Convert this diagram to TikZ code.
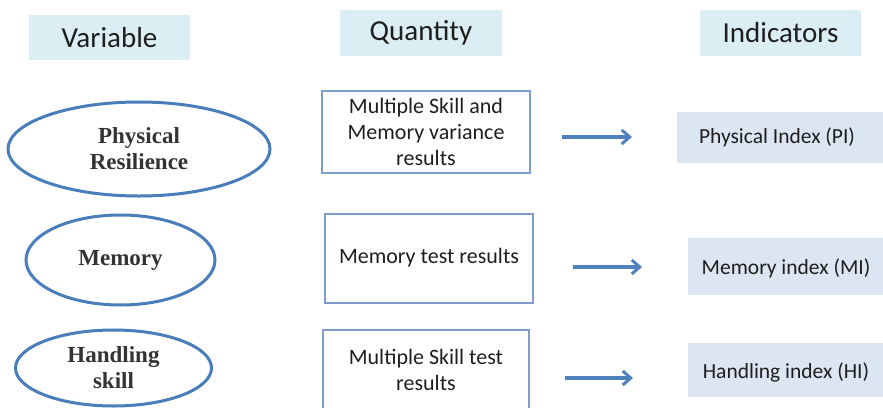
\documentclass[tikz,border=0pt]{standalone}
\usepackage{fontspec}
\setmainfont{Carlito}
\newfontfamily\ellfont{Liberation Serif}
\usetikzlibrary{shapes.geometric,arrows.meta}
\definecolor{hdrfill}{HTML}{DAEEF3}
\definecolor{indfill}{HTML}{DCE6F2}
\definecolor{ellline}{HTML}{4A7EBB}
\definecolor{boxline}{HTML}{7F9CCB}
\definecolor{arrcol}{HTML}{4F81BD}
\definecolor{txt}{HTML}{1E1E1E}
\definecolor{elltxt}{HTML}{333333}
\tikzset{
  hdr/.style={fill=hdrfill, draw=none, text=txt, inner sep=0pt, font=\fontsize{29}{33}\selectfont},
  ell/.style={ellipse, draw=ellline, line width=3pt, inner sep=0pt, text=elltxt, align=center,
              font=\ellfont\bfseries\fontsize{23}{26}\selectfont},
  qbox/.style={rectangle, draw=boxline, line width=2.6pt, inner sep=0pt, text=txt, align=center,
              font=\fontsize{22}{26}\selectfont},
  qtxt/.style={text=txt, align=center, font=\fontsize{22}{26}\selectfont},
  ind/.style={rectangle, fill=indfill, draw=none, inner sep=0pt},
  itxt/.style={text=txt, font=\fontsize{21.5}{24}\selectfont},
  arr/.style={draw=arrcol, line width=3.2pt, -{Straight Barb[length=8pt,width=14pt,line width=3pt]}}
}
\begin{document}
\begin{tikzpicture}[x=1pt,y=-1pt]
\useasboundingbox (0,0) rectangle (883,407);
\clip (0,0) rectangle (883,407);
% headers
\node[hdr, minimum width=161pt, minimum height=45pt] (hv) at (109.5,37.5) {Variable};
\node[hdr, minimum width=162pt, minimum height=46pt] (hq) at (421,33) {Quantity};
\node[hdr, minimum width=161pt, minimum height=46pt] (hi) at (780.5,33) {Indicators};
% ellipses
\node[ell, minimum width=262pt, minimum height=94pt] (e1) at (139,149) {Physical\\Resilience};
\node[ell, minimum width=189pt, minimum height=90pt] (e2) at (120.5,260) {Memory};
\node[ell, minimum width=196pt, minimum height=76pt] (e3) at (113.5,368) {Handling\\skill};
% quantity boxes
\node[qbox, minimum width=208pt, minimum height=82pt] (q1) at (426,132) {Multiple Skill and\\Memory variance\\results};
\node[qbox, minimum width=208pt, minimum height=89pt] (q2) at (429,258.5) {};
\node[qtxt] (q2t) at (429,258) {Memory test results};
\node[qbox, minimum width=206pt, minimum height=90pt] (q3) at (426,375) {};
\node[qtxt] (q3t) at (426,370) {Multiple Skill test\\results};
% indicator boxes
\node[ind, minimum width=220pt, minimum height=51pt, anchor=west] (i1) at (677,137.5) {};
\node[itxt] (i1t) at (777,137) {Physical Index (PI)};
\node[ind, minimum width=210pt, minimum height=57pt, anchor=west] (i2) at (688,266.5) {};
\node[itxt] (i2t) at (786,268) {Memory index (MI)};
\node[ind, minimum width=210pt, minimum height=54pt, anchor=west] (i3) at (688,370) {};
\node[itxt] (i3t) at (786,372) {Handling index (HI)};
% arrows
\coordinate (a1s) at (562,137); \coordinate (a1e) at (632,137);
\coordinate (a2s) at (573,267); \coordinate (a2e) at (642,267);
\coordinate (a3s) at (565,378); \coordinate (a3e) at (633,378);
\draw[arr] (a1s) -- (a1e);
\draw[arr] (a2s) -- (a2e);
\draw[arr] (a3s) -- (a3e);
\end{tikzpicture}
\end{document}
